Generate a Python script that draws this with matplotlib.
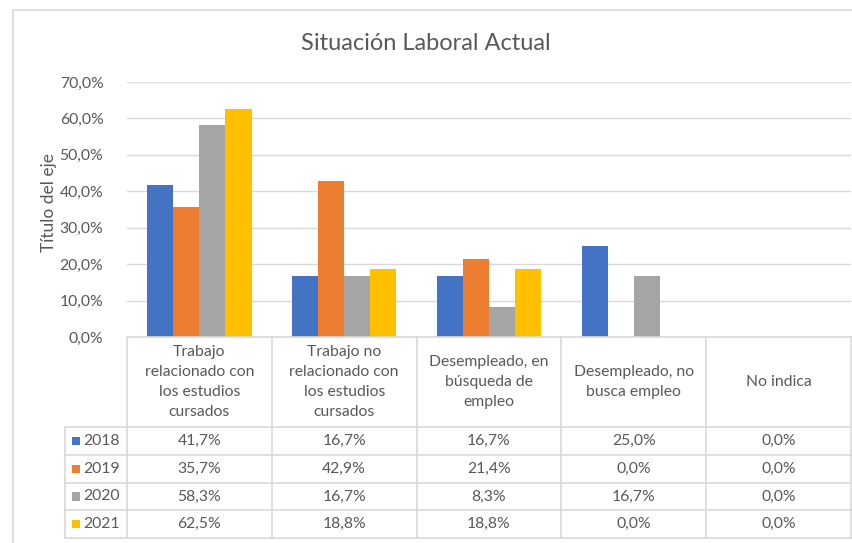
import matplotlib
matplotlib.use("Agg")
import matplotlib.pyplot as plt
from matplotlib.transforms import blended_transform_factory
from matplotlib.lines import Line2D
from matplotlib.patches import Rectangle

categories = ["Trabajo\nrelacionado con\nlos estudios\ncursados",
              "Trabajo no\nrelacionado con\nlos estudios\ncursados",
              "Desempleado, en\nbúsqueda de\nempleo",
              "Desempleado, no\nbusca empleo",
              "No indica"]
years = ["2018", "2019", "2020", "2021"]
values = {
    "2018": [41.7, 16.7, 16.7, 25.0, 0.0],
    "2019": [35.7, 42.9, 21.4, 0.0, 0.0],
    "2020": [58.3, 16.7, 8.3, 16.7, 0.0],
    "2021": [62.5, 18.8, 18.8, 0.0, 0.0],
}
colors = ["#4472C4", "#ED7D31", "#A5A5A5", "#FFC000"]
yticks = [0, 10, 20, 30, 40, 50, 60, 70]

plt.rcParams['font.family'] = ['Lato', 'DejaVu Sans']
TXT = "#595959"
GRID = "#D9D9D9"

W, H = 852, 543
fig = plt.figure(figsize=(W/100, H/100), dpi=100)
fig.patch.set_facecolor("white")

def fx(px): return px / W
def fy(py): return 1 - py / H

# outer chart border
fig.add_artist(Rectangle((fx(12.5), fy(560)), fx(900) - fx(12.5), fy(10) - fy(560),
                         transform=fig.transFigure, fill=False, edgecolor=GRID, lw=1.2))

x0, x1 = 127, 851
ytop, ybot = 82, 337
ax = fig.add_axes([fx(x0), fy(ybot), fx(x1) - fx(x0), fy(ytop) - fy(ybot)])
ax.set_xlim(-0.5, len(categories) - 0.5)
ax.set_ylim(0, 70)
for s in ax.spines.values():
    s.set_visible(False)
ax.set_yticks(yticks)
ax.set_yticklabels([f"{v:.1f}%".replace(".", ",") for v in yticks], color=TXT, fontsize=11.3)
ax.tick_params(axis="y", length=0, pad=17)
ax.set_xticks([])
ax.grid(axis="y", color=GRID, lw=1)
ax.set_axisbelow(True)

bw = 0.18
for i, y in enumerate(years):
    off = (i - 1.5) * bw
    ax.bar([k + off for k in range(len(categories))], values[y], width=bw,
           color=colors[i], zorder=3)

fig.text(fx(49), fy(203), "Título del eje", rotation=90, ha="center", va="center",
         color=TXT, fontsize=12.5)

fig.text(0.5, fy(43), "Situación Laboral Actual", ha="center", va="center",
         fontsize=17, color=TXT)

# data table
tr = blended_transform_factory(ax.transData, fig.transFigure)
row_y = [337, 427, 455, 483, 510, 538]
ncat = len(categories)
col_edges = [k - 0.5 for k in range(ncat + 1)]
for xe in col_edges:
    fig.add_artist(Line2D([xe, xe], [fy(337), fy(538)], transform=tr, color=GRID, lw=1.2))
fig.add_artist(Line2D([fx(65), fx(65)], [fy(427), fy(538)], transform=fig.transFigure,
                      color=GRID, lw=1.2))
fig.add_artist(Line2D([fx(x0), fx(x1)], [fy(337), fy(337)], transform=fig.transFigure,
                      color=GRID, lw=1.2))
for ry in row_y[1:]:
    fig.add_artist(Line2D([fx(65), fx(x1)], [fy(ry), fy(ry)], transform=fig.transFigure,
                          color=GRID, lw=1.2))
for k, c in enumerate(categories):
    fig.text(k, fy(382), c, transform=tr, ha="center", va="center", fontsize=11.3,
             color=TXT, linespacing=1.55)
for i, y in enumerate(years):
    cy = (row_y[i + 1] + row_y[i + 2]) / 2
    fig.add_artist(Rectangle((fx(72), fy(cy + 4)), fx(80) - fx(72), fy(cy - 4) - fy(cy + 4),
                             transform=fig.transFigure, color=colors[i], lw=0))
    fig.text(fx(83), fy(cy), y, ha="left", va="center", fontsize=11.3, color=TXT)
    for k, v in enumerate(values[y]):
        fig.text(k, fy(cy), f"{v:.1f}%".replace(".", ","), transform=tr, ha="center",
                 va="center", fontsize=11.3, color=TXT)

fig.savefig("out.png", dpi=100)
